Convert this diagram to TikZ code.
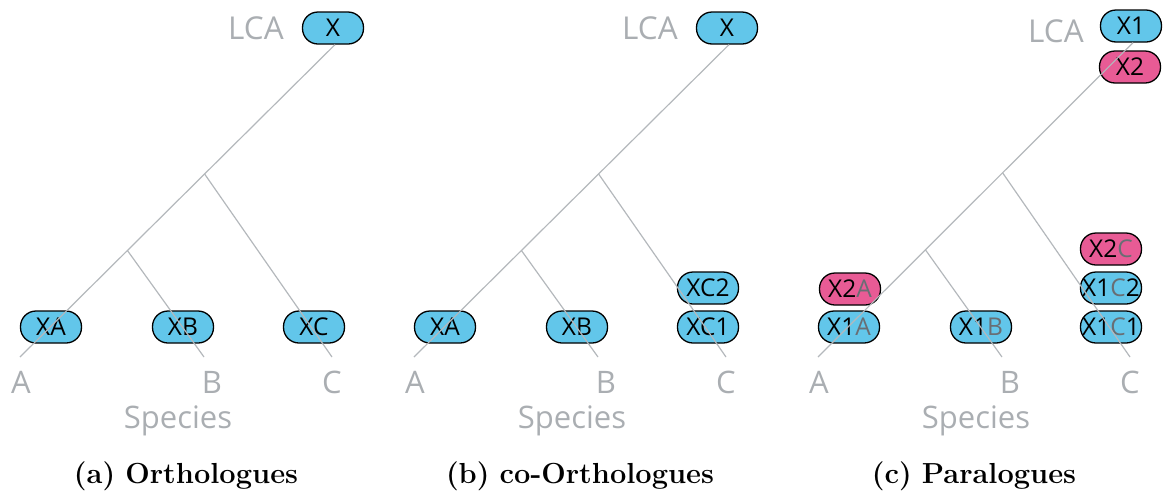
\documentclass[tikz,border=0pt]{standalone}
\usepackage{fontspec}
\newfontfamily\genefont{Open Sans}
\usetikzlibrary{calc}

\definecolor{geneblue}{RGB}{98,198,234}
\definecolor{genepink}{RGB}{232,91,149}
\definecolor{treegray}{RGB}{180,184,188}
\definecolor{labelgray}{RGB}{170,174,178}
\definecolor{spgray}{RGB}{105,110,116}

\tikzset{
  gene/.style={draw=black, line width=1.3pt, rounded corners=15.5pt,
    minimum width=61pt, minimum height=32pt, inner sep=0pt, text=black,
    font=\genefont\fontsize{24.5}{25}\selectfont},
  bluegene/.style={gene, fill=geneblue},
  pinkgene/.style={gene, fill=genepink},
  branch/.style={draw=treegray, line width=1.2pt},
  leaflbl/.style={text=labelgray, inner sep=0pt, anchor=base,
    font=\genefont\fontsize{31}{31}\selectfont},
  lcalbl/.style={text=labelgray, inner sep=0pt, anchor=base,
    font=\genefont\fontsize{31.5}{32}\selectfont},
  caption/.style={inner sep=0pt, anchor=base,
    font=\fontsize{29}{30}\selectfont\bfseries},
}

% species letter inside a gene name
\newcommand\spletter[1]{{\color{spgray}#1}}

% the species tree of one panel; #1 is the name prefix, its top gene is (#1lca)
\newcommand\speciestree[1]{%
  \coordinate (#1top) at ([xshift=2pt]#1lca.south);
  \coordinate (#1endA) at (20,357);
  \coordinate (#1endB) at (204,357);
  \coordinate (#1endC) at (332,357);
  \coordinate (#1n1) at ($(#1top)!0.414!(#1endA)$);
  \coordinate (#1n2) at ($(#1top)!0.659!(#1endA)$);
  \draw[branch] (#1top) -- (#1endA);
  \draw[branch] (#1n1) -- (#1endC);
  \draw[branch] (#1n2) -- (#1endB);
  \node[leaflbl] (#1labA) at (21,393) {A};
  \node[leaflbl] (#1labB) at (212,393) {B};
  \node[leaflbl] (#1labC) at (332,393) {C};
  \node[leaflbl] (#1species) at (178,428) {Species};
}

\begin{document}
\begin{tikzpicture}[x=1pt,y=-1pt]
\useasboundingbox (0,0) rectangle (1163,491);

% (a) orthologues
\begin{scope}
  \node[bluegene] (alca) at (333,28) {X};
  \node[lcalbl] (alcalbl) at (256,39) {LCA};
  \node[bluegene] (aXA) at (51,327) {XA};
  \node[bluegene] (aXB) at (183,327) {XB};
  \node[bluegene] (aXC) at (314,327) {XC};
  \speciestree{a}
  \node[caption] (acap) at (186,483) {(a)\hspace{0.35em}Orthologues};
\end{scope}

% (b) co-orthologues
\begin{scope}[xshift=394pt]
  \node[bluegene] (blca) at (333,28) {X};
  \node[lcalbl] (blcalbl) at (256,39) {LCA};
  \node[bluegene] (bXA) at (51,327) {XA};
  \node[bluegene] (bXB) at (183,327) {XB};
  \node[bluegene] (bXC1) at (314,327) {XC1};
  \node[bluegene] (bXC2) at (314,288) {XC2};
  \speciestree{b}
  \node[caption] (bcap) at (186,483) {(b)\hspace{0.35em}co-Orthologues};
\end{scope}

% (c) paralogues
\begin{scope}[xshift=798pt]
  \node[bluegene] (clca) at (333,26) {X1};
  \node[pinkgene] (cX2) at (332,67) {X2};
  \node[lcalbl] (clcalbl) at (258,42) {LCA};
  \node[bluegene] (cX1A) at (51,327) {X1\spletter{A}};
  \node[pinkgene] (cX2A) at (52,289) {X2\spletter{A}};
  \node[bluegene] (cX1B) at (183,327) {X1\spletter{B}};
  \node[bluegene] (cX1C1) at (313,327) {X1\spletter{C}1};
  \node[bluegene] (cX1C2) at (313,288) {X1\spletter{C}2};
  \node[pinkgene] (cX2C) at (313,249) {X2\spletter{C}};
  \speciestree{c}
  \node[caption] (ccap) at (176,483) {(c)\hspace{0.35em}Paralogues};
\end{scope}
\end{tikzpicture}
\end{document}
